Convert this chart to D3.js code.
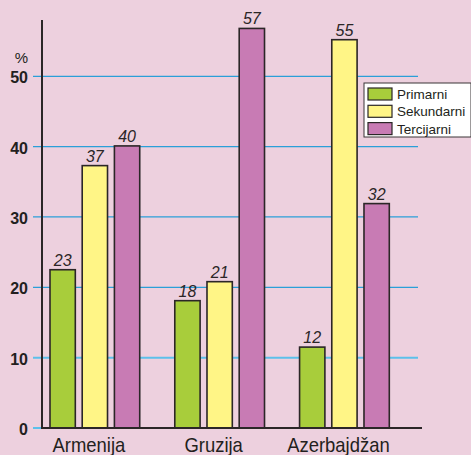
<!DOCTYPE html>
<html>
<head>
<meta charset="utf-8">
<script src="https://cdn.jsdelivr.net/npm/d3@7"></script>
<style>
  body { margin: 0; background: #edd0de; }
  svg { display: block; font-family: "Liberation Sans", Arial, sans-serif; }
</style>
</head>
<body>
<svg id="chart" width="471" height="455"></svg>
<script>
// data
var countries = ["Armenija", "Gruzija", "Azerbajdžan"];
var sectors = ["Primarni", "Sekundarni", "Tercijarni"];
var primarni = [22.5, 18.1, 11.5];
var sekundarni = [37.3, 20.8, 55.2];
var tercijarni = [40.1, 56.8, 31.9];
var yTicks = [0, 10, 20, 30, 40, 50];
var colors = ["#a8cd3b", "#fff586", "#c87bb4"];

var series = [primarni, sekundarni, tercijarni];

var svg = d3.select("#chart");

var y = d3.scaleLinear().domain([0, 58]).range([428, 20]);
var x0 = d3.scaleBand().domain(countries).range([50, 389.3]).paddingInner(0.281).paddingOuter(0);
var x1 = d3.scaleBand().domain(sectors).range([0, x0.bandwidth()]).paddingInner(0.214);

// grid lines
svg.append("g").selectAll("line")
    .data(yTicks)
  .enter().append("line")
    .attr("x1", 33)
    .attr("x2", function(d) { return d == 0 ? 42 : 418; })
    .attr("y1", function(d) { return y(d); })
    .attr("y2", function(d) { return y(d); })
    .attr("stroke", function(d) { return d <= 10 ? "#5cc0ea" : "#2b9fd8"; })
    .attr("stroke-width", function(d) { return d <= 10 ? 2 : 1.3; });

// tick labels
svg.append("g").selectAll("text")
    .data(yTicks)
  .enter().append("text")
    .attr("x", 28)
    .attr("y", function(d) { return y(d) + 7; })
    .attr("text-anchor", "end")
    .attr("font-size", "16px")
    .attr("font-weight", "bold")
    .attr("fill", "#231f20")
    .text(function(d) { return d; });

svg.append("text")
    .attr("x", 28).attr("y", 63)
    .attr("text-anchor", "end")
    .attr("font-size", "15px")
    .attr("fill", "#231f20")
    .text("%");

// bars
var groups = svg.append("g").selectAll("g")
    .data(countries)
  .enter().append("g")
    .attr("transform", function(d) { return "translate(" + x0(d) + ",0)"; });

groups.selectAll("rect")
    .data(function(d, i) { return sectors.map(function(s, j) { return {s: s, v: series[j][i], c: colors[j]}; }); })
  .enter().append("rect")
    .attr("x", function(d) { return x1(d.s); })
    .attr("width", x1.bandwidth())
    .attr("y", function(d) { return y(d.v); })
    .attr("height", function(d) { return y(0) - y(d.v); })
    .attr("fill", function(d) { return d.c; })
    .attr("stroke", "#2b2627")
    .attr("stroke-width", 1.6);

groups.selectAll("text.val")
    .data(function(d, i) { return sectors.map(function(s, j) { return {s: s, v: series[j][i]}; }); })
  .enter().append("text")
    .attr("class", "val")
    .attr("x", function(d) { return x1(d.s) + x1.bandwidth() / 2; })
    .attr("y", function(d) { return y(d.v) - 4; })
    .attr("text-anchor", "middle")
    .attr("font-size", "16px")
    .attr("font-style", "italic")
    .attr("fill", "#2b2627")
    .text(function(d) { return Math.round(d.v); });

// axes lines
svg.append("line")
    .attr("x1", 42).attr("x2", 42)
    .attr("y1", 20).attr("y2", y(0))
    .attr("stroke", "#2b2627").attr("stroke-width", 2);
svg.append("line")
    .attr("x1", 41).attr("x2", 422)
    .attr("y1", y(0)).attr("y2", y(0))
    .attr("stroke", "#2b2627").attr("stroke-width", 2);

// category labels
svg.append("g").selectAll("text")
    .data(countries)
  .enter().append("text")
    .attr("x", function(d) { return x0(d) + x0.bandwidth() / 2 - 6; })
    .attr("y", 452)
    .attr("text-anchor", "middle")
    .attr("font-size", "20.5px")
    .attr("fill", "#231f20")
    .attr("transform", function(d) { var cx = x0(d) + x0.bandwidth() / 2 - 6; return "translate(" + cx * 0.1 + ",0) scale(0.9,1)"; })
    .text(function(d) { return d; });

// legend
var legend = svg.append("g").attr("transform", "translate(364,83)");
legend.append("rect")
    .attr("width", 107).attr("height", 54)
    .attr("fill", "#ffffff")
    .attr("stroke", "#3a3536").attr("stroke-width", 1);

var items = legend.selectAll("g.item")
    .data(sectors)
  .enter().append("g")
    .attr("class", "item")
    .attr("transform", function(d, i) { return "translate(4," + (5 + i * 17.3) + ")"; });

items.append("rect")
    .attr("width", 24).attr("height", 12)
    .attr("fill", function(d, i) { return colors[i]; })
    .attr("stroke", "#2b2627").attr("stroke-width", 1.2);

items.append("text")
    .attr("x", 29).attr("y", 11)
    .attr("font-size", "13.5px")
    .attr("fill", "#231f20")
    .text(function(d) { return d; });
</script>
</body>
</html>
